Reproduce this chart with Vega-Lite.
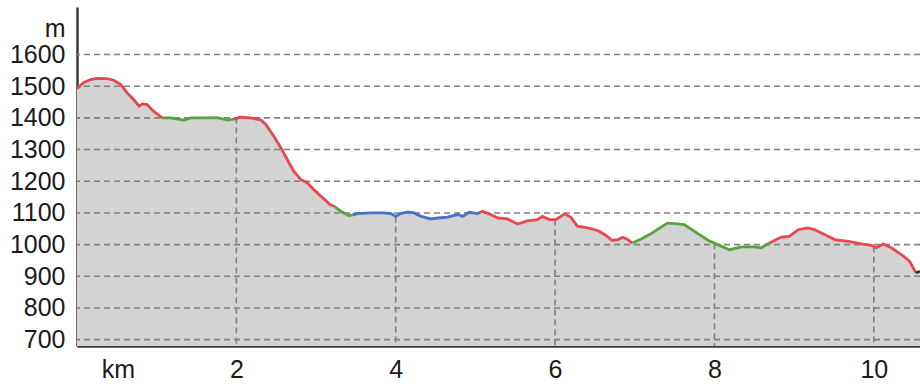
{
  "$schema": "https://vega.github.io/schema/vega-lite/v6.json",
  "width": 843,
  "height": 339,
  "autosize": {"type": "none"},
  "padding": {"left": 77, "top": 7, "right": 0, "bottom": 41},
  "background": "white",
  "config": {
    "view": {"stroke": null},
    "font": "Liberation Sans",
    "axis": {"labelOverlap": false, "labelBound": false, "labelFlush": false, "grid": false, "ticks": false}
  },
  "datasets": {
    "profile": [
      {"km": 0.0, "elev": 1492, "seg": 1, "class": "steep"},
      {"km": 0.08, "elev": 1511, "seg": 1, "class": "steep"},
      {"km": 0.17, "elev": 1521, "seg": 1, "class": "steep"},
      {"km": 0.25, "elev": 1525, "seg": 1, "class": "steep"},
      {"km": 0.38, "elev": 1524, "seg": 1, "class": "steep"},
      {"km": 0.46, "elev": 1519, "seg": 1, "class": "steep"},
      {"km": 0.55, "elev": 1505, "seg": 1, "class": "steep"},
      {"km": 0.63, "elev": 1479, "seg": 1, "class": "steep"},
      {"km": 0.71, "elev": 1458, "seg": 1, "class": "steep"},
      {"km": 0.78, "elev": 1437, "seg": 1, "class": "steep"},
      {"km": 0.82, "elev": 1444, "seg": 1, "class": "steep"},
      {"km": 0.88, "elev": 1442, "seg": 1, "class": "steep"},
      {"km": 0.96, "elev": 1421, "seg": 1, "class": "steep"},
      {"km": 1.07, "elev": 1400, "seg": 1, "class": "steep"},
      {"km": 1.07, "elev": 1400, "seg": 2, "class": "moderate"},
      {"km": 1.17, "elev": 1400, "seg": 2, "class": "moderate"},
      {"km": 1.34, "elev": 1393, "seg": 2, "class": "moderate"},
      {"km": 1.43, "elev": 1400, "seg": 2, "class": "moderate"},
      {"km": 1.59, "elev": 1400, "seg": 2, "class": "moderate"},
      {"km": 1.76, "elev": 1401, "seg": 2, "class": "moderate"},
      {"km": 1.89, "elev": 1393, "seg": 2, "class": "moderate"},
      {"km": 1.97, "elev": 1396, "seg": 2, "class": "moderate"},
      {"km": 1.97, "elev": 1396, "seg": 3, "class": "steep"},
      {"km": 2.05, "elev": 1402, "seg": 3, "class": "steep"},
      {"km": 2.18, "elev": 1400, "seg": 3, "class": "steep"},
      {"km": 2.31, "elev": 1393, "seg": 3, "class": "steep"},
      {"km": 2.37, "elev": 1379, "seg": 3, "class": "steep"},
      {"km": 2.47, "elev": 1342, "seg": 3, "class": "steep"},
      {"km": 2.56, "elev": 1305, "seg": 3, "class": "steep"},
      {"km": 2.64, "elev": 1268, "seg": 3, "class": "steep"},
      {"km": 2.72, "elev": 1232, "seg": 3, "class": "steep"},
      {"km": 2.81, "elev": 1205, "seg": 3, "class": "steep"},
      {"km": 2.89, "elev": 1195, "seg": 3, "class": "steep"},
      {"km": 2.97, "elev": 1174, "seg": 3, "class": "steep"},
      {"km": 3.06, "elev": 1153, "seg": 3, "class": "steep"},
      {"km": 3.18, "elev": 1126, "seg": 3, "class": "steep"},
      {"km": 3.23, "elev": 1121, "seg": 3, "class": "steep"},
      {"km": 3.23, "elev": 1121, "seg": 4, "class": "moderate"},
      {"km": 3.31, "elev": 1105, "seg": 4, "class": "moderate"},
      {"km": 3.41, "elev": 1092, "seg": 4, "class": "moderate"},
      {"km": 3.46, "elev": 1094, "seg": 4, "class": "moderate"},
      {"km": 3.46, "elev": 1094, "seg": 5, "class": "flat"},
      {"km": 3.52, "elev": 1098, "seg": 5, "class": "flat"},
      {"km": 3.69, "elev": 1100, "seg": 5, "class": "flat"},
      {"km": 3.85, "elev": 1100, "seg": 5, "class": "flat"},
      {"km": 3.94, "elev": 1098, "seg": 5, "class": "flat"},
      {"km": 4.0, "elev": 1089, "seg": 5, "class": "flat"},
      {"km": 4.06, "elev": 1098, "seg": 5, "class": "flat"},
      {"km": 4.15, "elev": 1103, "seg": 5, "class": "flat"},
      {"km": 4.23, "elev": 1100, "seg": 5, "class": "flat"},
      {"km": 4.32, "elev": 1089, "seg": 5, "class": "flat"},
      {"km": 4.44, "elev": 1081, "seg": 5, "class": "flat"},
      {"km": 4.53, "elev": 1084, "seg": 5, "class": "flat"},
      {"km": 4.65, "elev": 1087, "seg": 5, "class": "flat"},
      {"km": 4.78, "elev": 1095, "seg": 5, "class": "flat"},
      {"km": 4.84, "elev": 1089, "seg": 5, "class": "flat"},
      {"km": 4.92, "elev": 1102, "seg": 5, "class": "flat"},
      {"km": 5.03, "elev": 1098, "seg": 5, "class": "flat"},
      {"km": 5.06, "elev": 1102, "seg": 5, "class": "flat"},
      {"km": 5.06, "elev": 1102, "seg": 6, "class": "steep"},
      {"km": 5.09, "elev": 1105, "seg": 6, "class": "steep"},
      {"km": 5.19, "elev": 1095, "seg": 6, "class": "steep"},
      {"km": 5.28, "elev": 1084, "seg": 6, "class": "steep"},
      {"km": 5.4, "elev": 1081, "seg": 6, "class": "steep"},
      {"km": 5.53, "elev": 1065, "seg": 6, "class": "steep"},
      {"km": 5.65, "elev": 1075, "seg": 6, "class": "steep"},
      {"km": 5.78, "elev": 1079, "seg": 6, "class": "steep"},
      {"km": 5.84, "elev": 1089, "seg": 6, "class": "steep"},
      {"km": 5.93, "elev": 1079, "seg": 6, "class": "steep"},
      {"km": 6.01, "elev": 1079, "seg": 6, "class": "steep"},
      {"km": 6.12, "elev": 1097, "seg": 6, "class": "steep"},
      {"km": 6.2, "elev": 1086, "seg": 6, "class": "steep"},
      {"km": 6.28, "elev": 1058, "seg": 6, "class": "steep"},
      {"km": 6.41, "elev": 1053, "seg": 6, "class": "steep"},
      {"km": 6.54, "elev": 1044, "seg": 6, "class": "steep"},
      {"km": 6.62, "elev": 1032, "seg": 6, "class": "steep"},
      {"km": 6.72, "elev": 1013, "seg": 6, "class": "steep"},
      {"km": 6.79, "elev": 1016, "seg": 6, "class": "steep"},
      {"km": 6.85, "elev": 1023, "seg": 6, "class": "steep"},
      {"km": 6.91, "elev": 1016, "seg": 6, "class": "steep"},
      {"km": 6.97, "elev": 1005, "seg": 6, "class": "steep"},
      {"km": 6.97, "elev": 1005, "seg": 7, "class": "moderate"},
      {"km": 7.08, "elev": 1018, "seg": 7, "class": "moderate"},
      {"km": 7.2, "elev": 1034, "seg": 7, "class": "moderate"},
      {"km": 7.33, "elev": 1055, "seg": 7, "class": "moderate"},
      {"km": 7.41, "elev": 1068, "seg": 7, "class": "moderate"},
      {"km": 7.5, "elev": 1066, "seg": 7, "class": "moderate"},
      {"km": 7.62, "elev": 1063, "seg": 7, "class": "moderate"},
      {"km": 7.75, "elev": 1042, "seg": 7, "class": "moderate"},
      {"km": 7.92, "elev": 1014, "seg": 7, "class": "moderate"},
      {"km": 8.04, "elev": 1000, "seg": 7, "class": "moderate"},
      {"km": 8.19, "elev": 984, "seg": 7, "class": "moderate"},
      {"km": 8.34, "elev": 993, "seg": 7, "class": "moderate"},
      {"km": 8.5, "elev": 993, "seg": 7, "class": "moderate"},
      {"km": 8.59, "elev": 990, "seg": 7, "class": "moderate"},
      {"km": 8.69, "elev": 1005, "seg": 7, "class": "moderate"},
      {"km": 8.69, "elev": 1005, "seg": 8, "class": "steep"},
      {"km": 8.84, "elev": 1024, "seg": 8, "class": "steep"},
      {"km": 8.94, "elev": 1026, "seg": 8, "class": "steep"},
      {"km": 9.05, "elev": 1047, "seg": 8, "class": "steep"},
      {"km": 9.17, "elev": 1053, "seg": 8, "class": "steep"},
      {"km": 9.26, "elev": 1047, "seg": 8, "class": "steep"},
      {"km": 9.38, "elev": 1032, "seg": 8, "class": "steep"},
      {"km": 9.51, "elev": 1016, "seg": 8, "class": "steep"},
      {"km": 9.68, "elev": 1010, "seg": 8, "class": "steep"},
      {"km": 9.85, "elev": 1002, "seg": 8, "class": "steep"},
      {"km": 9.97, "elev": 998, "seg": 8, "class": "steep"},
      {"km": 10.03, "elev": 990, "seg": 8, "class": "steep"},
      {"km": 10.12, "elev": 1002, "seg": 8, "class": "steep"},
      {"km": 10.22, "elev": 990, "seg": 8, "class": "steep"},
      {"km": 10.35, "elev": 968, "seg": 8, "class": "steep"},
      {"km": 10.45, "elev": 947, "seg": 8, "class": "steep"},
      {"km": 10.53, "elev": 911, "seg": 8, "class": "steep"},
      {"km": 10.53, "elev": 911, "seg": 9, "class": "end"},
      {"km": 10.58, "elev": 916, "seg": 9, "class": "end"}
    ],
    "grid": [
      {"elev": 700}, {"elev": 800}, {"elev": 900}, {"elev": 1000}, {"elev": 1100},
      {"elev": 1200}, {"elev": 1300}, {"elev": 1400}, {"elev": 1500}, {"elev": 1600}
    ],
    "marks": [
      {"km": 2, "elev": 1401},
      {"km": 4, "elev": 1089},
      {"km": 6, "elev": 1079},
      {"km": 8, "elev": 1004},
      {"km": 10, "elev": 994}
    ]
  },
  "encoding": {
    "x": {
      "field": "km", "type": "quantitative",
      "scale": {"domain": [0, 10.58], "nice": false, "zero": false},
      "axis": {
        "values": [2, 4, 6, 8, 10], "format": "d", "grid": false, "ticks": false,
        "labelOverlap": false, "labelBound": false, "labelFlush": false,
        "labelFontSize": 25, "labelColor": "#1a1a1a", "labelFont": "Liberation Sans",
        "labelPadding": 11, "domainColor": "#3a3a3a", "domainWidth": 2.5,
        "title": "km", "titleFontSize": 25, "titleFontWeight": "normal", "titleColor": "#1a1a1a",
        "titleFont": "Liberation Sans",
        "titleX": 41, "titleY": 11, "titleAlign": "center", "titleBaseline": "top"
      }
    },
    "y": {
      "field": "elev", "type": "quantitative",
      "scale": {"domain": [680, 1750], "nice": false, "zero": false},
      "axis": {
        "values": [700, 800, 900, 1000, 1100, 1200, 1300, 1400, 1500, 1600],
        "format": "d", "grid": false, "ticks": false,
        "labelOverlap": false, "labelBound": false, "labelFlush": false,
        "labelFontSize": 25, "labelColor": "#1a1a1a", "labelFont": "Liberation Sans",
        "labelPadding": 12, "domainColor": "#3a3a3a", "domainWidth": 2.5,
        "title": "m", "titleFontSize": 25, "titleFontWeight": "normal", "titleColor": "#1a1a1a",
        "titleFont": "Liberation Sans",
        "titleAngle": 0, "titleX": -12, "titleY": 21, "titleAlign": "right", "titleBaseline": "middle"
      }
    }
  },
  "layer": [
    {
      "data": {"name": "profile"},
      "mark": {"type": "area", "color": "#d3d3d3", "opacity": 1},
      "encoding": {"y2": {"datum": 680}}
    },
    {
      "data": {"name": "grid"},
      "mark": {"type": "rule", "color": "#808080", "strokeDash": [6, 4], "strokeWidth": 1.6},
      "encoding": {"x": null}
    },
    {
      "data": {"name": "marks"},
      "mark": {"type": "rule", "color": "#808080", "strokeDash": [6, 4], "strokeWidth": 1.6},
      "encoding": {"y2": {"datum": 680}}
    },
    {
      "data": {"name": "profile"},
      "mark": {"type": "line", "strokeWidth": 2.8},
      "encoding": {
        "detail": {"field": "seg", "type": "nominal"},
        "color": {
          "field": "class", "type": "nominal",
          "scale": {"domain": ["steep", "moderate", "flat", "end"], "range": ["#e8474f", "#55a53c", "#4472c4", "#333333"]},
          "legend": null
        }
      }
    }
  ]
}
